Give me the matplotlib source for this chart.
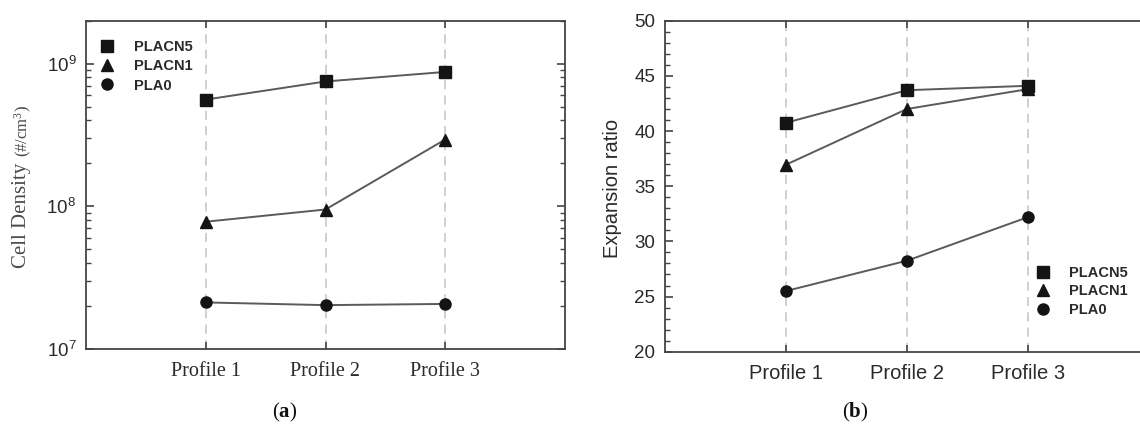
import numpy as np
import matplotlib
matplotlib.use("Agg")
from matplotlib import pyplot as plt
from matplotlib.lines import Line2D
from matplotlib.ticker import LogLocator, MultipleLocator, NullFormatter, FixedLocator

# data
profiles = ['Profile 1', 'Profile 2', 'Profile 3']
series = ['PLACN5', 'PLACN1', 'PLA0']
markers = ['s', '^', 'o']
msizes = [8, 8.5, 8]

cell_placn5 = [5.6e8, 7.5e8, 8.75e8]
cell_placn1 = [7.8e7, 9.5e7, 2.94e8]
cell_pla0 = [2.12e7, 2.03e7, 2.07e7]

exp_placn5 = [40.75, 43.7, 44.1]
exp_placn1 = [36.95, 42.0, 43.8]
exp_pla0 = [25.5, 28.25, 32.2]

plt.rcParams['mathtext.fontset'] = 'custom'
plt.rcParams['mathtext.rm'] = 'Liberation Serif'
plt.rcParams['mathtext.bf'] = 'Liberation Serif:bold'

W, H = 1140, 428
fig = plt.figure(figsize=(W / 100, H / 100), dpi=100)

def px(x0, y0, x1, y1):
    # pixel box (top-left origin) -> figure fraction
    return [x0 / W, 1 - y1 / H, (x1 - x0) / W, (y1 - y0) / H]

spine_c = '#444444'
text_c = '#2a2a2a'
line_c = '#5a5a5a'
mark_c = '#141414'
grid_c = '#c4c4c4'
x = np.arange(1, len(profiles) + 1)

ax1 = fig.add_axes(px(86, 20.7, 565, 349))
ax2 = fig.add_axes(px(665, 20.7, 1149, 351.7))

for ax in (ax1, ax2):
    for s in ax.spines.values():
        s.set_color(spine_c)
        s.set_linewidth(1.3)
    ax.set_xlim(0, 4)
    ax.set_xticks(x)
    ax.set_xticklabels(profiles)
    for xv in x:
        ax.axvline(xv, color=grid_c, lw=1.1, dashes=(6, 4), zorder=1)
    ax.tick_params(axis='both', which='both', direction='in', colors=spine_c,
                   top=True, right=True, labelcolor=text_c)
    ax.tick_params(axis='x', length=5, width=1.2)

# (a) cell density
ax1.set_yscale('log')
ax1.set_ylim(1e7, 2e9)
for vals, m, ms in zip([cell_placn5, cell_placn1, cell_pla0], markers, msizes):
    ax1.plot(x, vals, color=line_c, lw=1.4, zorder=2)
    ax1.plot(x, vals, ls='none', marker=m, ms=ms, color=mark_c, zorder=3)
ax1.yaxis.set_major_locator(FixedLocator([1e7, 1e8, 1e9]))
ax1.set_yticklabels([r'$\mathregular{10^{7}}$', r'$\mathregular{10^{8}}$', r'$\mathregular{10^{9}}$'])
ax1.yaxis.set_minor_locator(LogLocator(base=10, subs=np.arange(2, 10)))
ax1.yaxis.set_minor_formatter(NullFormatter())
ax1.tick_params(axis='y', which='major', length=6, width=1.2, pad=7)
ax1.tick_params(axis='y', which='minor', length=3.5, width=1.0)
for t in ax1.get_yticklabels():
    t.set_fontfamily('Liberation Sans')
    t.set_fontsize(13.5)
for t in ax1.get_xticklabels():
    t.set_fontfamily('Liberation Serif')
    t.set_fontsize(14.5)
ax1.tick_params(axis='x', pad=9)

# (b) expansion ratio
ax2.set_ylim(20, 50)
for vals, m, ms in zip([exp_placn5, exp_placn1, exp_pla0], markers, msizes):
    ax2.plot(x, vals, color=line_c, lw=1.4, zorder=2)
    ax2.plot(x, vals, ls='none', marker=m, ms=ms, color=mark_c, zorder=3)
ax2.yaxis.set_major_locator(MultipleLocator(5))
ax2.yaxis.set_minor_locator(MultipleLocator(1))
ax2.tick_params(axis='y', which='major', length=6, width=1.2, pad=7)
ax2.tick_params(axis='y', which='minor', length=3.5, width=1.0)
for t in ax2.get_yticklabels():
    t.set_fontfamily('Liberation Sans')
    t.set_fontsize(13.5)
for t in ax2.get_xticklabels():
    t.set_fontfamily('Liberation Sans')
    t.set_fontsize(14.5)
ax2.tick_params(axis='x', pad=9)

# legends (markers only)
handles = [Line2D([], [], ls='none', marker=m, ms=ms, color=mark_c) for m, ms in zip(markers, msizes)]
leg_font = {'family': 'Liberation Sans', 'weight': 'bold', 'size': 10.5}
l1 = ax1.legend(handles, series, loc='upper left', bbox_to_anchor=(0.005, 0.972),
                frameon=False, prop=leg_font, handlelength=1.2, handletextpad=1.2,
                labelspacing=0.36, borderpad=0.2)
l2 = ax2.legend(handles, series, loc='upper left', bbox_to_anchor=(0.742, 0.29),
                frameon=False, prop=leg_font, handlelength=1.2, handletextpad=1.2,
                labelspacing=0.3, borderpad=0.2)
for l in (l1, l2):
    for t in l.get_texts():
        t.set_color(text_c)

# axis titles
fig.text(22 / W, 1 - 268 / H, 'Cell Density', rotation=90, ha='center', va='bottom',
         family='Liberation Serif', fontsize=15, color='#4a4a4a')
fig.text(23 / W, 1 - 157 / H, r'(#/cm$\mathregular{^{3}}$)', rotation=90, ha='center', va='bottom',
         family='Liberation Serif', fontsize=12, color='#4a4a4a')
fig.text(612 / W, 1 - 188 / H, 'Expansion ratio', rotation=90, ha='center', va='center',
         family='Liberation Sans', fontsize=14.5, color=text_c)

# panel captions
fig.text(285 / W, 1 - 412 / H, r'($\mathbf{a}$)', ha='center', va='center',
         family='Liberation Serif', fontsize=15, color='#111111')
fig.text(855 / W, 1 - 412 / H, r'($\mathbf{b}$)', ha='center', va='center',
         family='Liberation Serif', fontsize=15, color='#111111')

fig.savefig('out.png', dpi=100)
